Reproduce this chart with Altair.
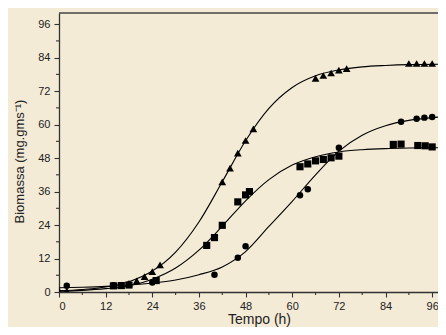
import altair as alt
import pandas as pd

# ---- data ----
tri_x = [0, 2, 14, 16, 18, 20, 22, 24, 26, 42, 44, 46, 48, 50, 66, 68, 70, 72, 74, 90, 92, 94, 96]
tri_y = [0.4, 0.4, 2.3, 2.5, 3.1, 4.0, 5.5, 7.3, 9.7, 39.5, 44.4, 49.8, 54.3, 58.5, 76.6, 77.6, 78.5, 79.5, 80.1, 81.9, 81.9, 81.9, 81.9]

sq_x = [14, 16, 18, 25, 38, 40, 42, 46, 48, 49, 62, 64, 66, 68, 70, 72, 86, 88, 92.3, 94.2, 96]
sq_y = [2.2, 2.3, 2.5, 4.1, 16.7, 19.5, 23.9, 32.3, 34.8, 36.0, 44.9, 45.9, 47.0, 47.5, 48.1, 48.7, 52.9, 53.0, 52.5, 52.4, 52.0]

ci_x = [2, 14, 16, 18, 24, 40, 46, 48, 62, 64, 72, 88, 92, 94, 96]
ci_y = [2.2, 2.4, 2.4, 2.6, 3.4, 6.2, 12.3, 16.4, 34.7, 36.8, 51.7, 61.0, 62.1, 62.5, 62.7]

# fitted curves
curve_x = [0, 6, 12, 18, 24, 30, 36, 42, 48, 54, 60, 66, 72, 78, 84, 90, 96, 100]
tri_curve = [0.4, 0.9, 1.8, 3.7, 7.5, 14.3, 25.1, 39.5, 54.2, 65.8, 73.3, 77.5, 79.6, 80.7, 81.2, 81.5, 81.6, 81.7]
sq_curve = [0.3, 0.6, 1.2, 2.3, 4.6, 8.6, 15.0, 23.6, 32.7, 40.3, 45.5, 48.5, 50.2, 51.0, 51.4, 51.6, 51.7, 51.75]
ci_curve = [1.5, 1.7, 2.0, 2.5, 3.2, 4.3, 6.2, 9.0, 14.5, 23.5, 32.5, 42.0, 50.5, 56.2, 59.6, 61.5, 62.5, 62.9]

series = ["tri", "sq", "ci"]
shapes = ["triangle-up", "square", "circle"]
sizes = [60, 42, 42]

major_ticks = [0, 12, 24, 36, 48, 60, 72, 84, 96]
minor_ticks = [6, 18, 30, 42, 54, 66, 78, 90]

x_title = "Tempo (h)"
y_title = "Biomassa (mg.gms\u207b\u00b9)"

# ---- tables ----
pts = pd.concat([
    pd.DataFrame({"x": tri_x, "y": tri_y, "s": "tri"}),
    pd.DataFrame({"x": sq_x, "y": sq_y, "s": "sq"}),
    pd.DataFrame({"x": ci_x, "y": ci_y, "s": "ci"}),
])
curves = pd.concat([
    pd.DataFrame({"x": curve_x, "y": tri_curve, "s": "tri"}),
    pd.DataFrame({"x": curve_x, "y": sq_curve, "s": "sq"}),
    pd.DataFrame({"x": curve_x, "y": ci_curve, "s": "ci"}),
])
minor_df = pd.DataFrame({"x": minor_ticks, "y": minor_ticks})

BG = "#F4EBD7"
AX = "#333333"
FONT = "Liberation Sans"
W, H = 379, 279

xs = alt.Scale(domain=[0, 97.5], nice=False, zero=False)
ys = alt.Scale(domain=[0, 100], nice=False, zero=False)

common = dict(grid=False, labelFont=FONT, labelFontSize=11, labelColor="#222222",
              domainColor=AX, tickColor=AX, titleFont=FONT, titleColor="#222222",
              titleFontWeight="normal", domainWidth=1.3, tickWidth=1.1, tickSize=5,
              labelOverlap=False, labelSeparation=0)

x_axis = alt.Axis(orient="bottom", values=major_ticks, labelPadding=3,
                  title=x_title, titleFontSize=14,
                  titleX=200, titleY=31, titleAlign="center", titleBaseline="alphabetic",
                  **common)
y_axis = alt.Axis(orient="left", values=major_ticks, labelPadding=4,
                  title=y_title, titleFontSize=13,
                  titleX=-40, titleY=148, titleAngle=270, titleAlign="center",
                  titleBaseline="middle", **common)

X = alt.X("x:Q", scale=xs, axis=x_axis, title=x_title)
Y = alt.Y("y:Q", scale=ys, axis=y_axis, title=y_title)

lines = alt.Chart(curves).mark_line(color="black", strokeWidth=1.1,
                                    interpolate="monotone", clip=True).encode(
    x=X, y=Y, detail="s:N",
)

points = alt.Chart(pts).mark_point(filled=True, opacity=1, color="black", clip=True).encode(
    x=X, y=Y,
    shape=alt.Shape("s:N", scale=alt.Scale(domain=series, range=shapes), legend=None),
    size=alt.Size("s:N", scale=alt.Scale(domain=series, range=sizes), legend=None),
)

x_minor = alt.Chart(minor_df).mark_rule(color=AX, strokeWidth=1.1).encode(
    x=X, y=alt.value(H), y2=alt.value(H + 3),
)
y_minor = alt.Chart(minor_df).mark_rule(color=AX, strokeWidth=1.1).encode(
    y=Y, x=alt.value(0), x2=alt.value(-3),
)
top_border = alt.Chart(pd.DataFrame({"a": [0]})).mark_rule(color="#444444", strokeWidth=1.6).encode(
    x=alt.value(0), x2=alt.value(W), y=alt.value(0),
)

chart = alt.layer(lines, points, x_minor, y_minor, top_border).properties(
    width=W, height=H,
    autosize=alt.AutoSizeParams(type="none"),
    padding={"left": 51, "top": 5, "right": 0, "bottom": 35},
    background=BG,
).configure_view(stroke=None, fill=BG)

chart.save("out.html", embed_options={"renderer": "svg", "actions": False})
